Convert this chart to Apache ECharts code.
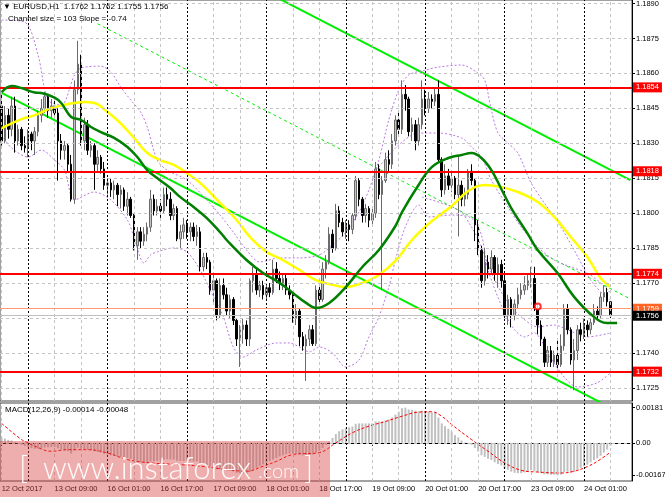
<!DOCTYPE html>
<html><head><meta charset="utf-8">
<script src="https://cdn.jsdelivr.net/npm/echarts@6/dist/echarts.min.js"></script>
<style>html,body{margin:0;padding:0;background:#fff}#c{width:665px;height:499px}</style>
</head><body><div id="c"></div>
<script>
// ---- data ----
// hourly candles [open, high, low, close], first = 12 Oct 17:00, last = 24 Oct 09:00
const ohlc = [
[1.1846,1.1851,1.1829,1.1831],[1.1831,1.1846,1.1830,1.1842],[1.1842,1.1845,1.1832,1.1836],[1.1836,1.1850,1.1833,1.1846],
[1.1846,1.1850,1.1826,1.1831],[1.1831,1.1838,1.1829,1.1836],[1.1836,1.1837,1.1827,1.1829],[1.1829,1.1833,1.1826,1.1828],
[1.1828,1.1836,1.1824,1.1834],[1.1834,1.1835,1.1827,1.1831],[1.1831,1.1837,1.1825,1.1835],[1.1835,1.1844,1.1833,1.1842],
[1.1842,1.1849,1.1839,1.1845],[1.1845,1.1852,1.1843,1.1850],[1.1850,1.1851,1.1841,1.1844],[1.1844,1.1849,1.1841,1.1846],
[1.1846,1.1849,1.1842,1.1843],[1.1843,1.1845,1.1814,1.1831],[1.1831,1.1834,1.1823,1.1827],[1.1827,1.1831,1.1823,1.1829],
[1.1829,1.1830,1.1818,1.1821],[1.1821,1.1825,1.1805,1.1806],[1.1806,1.1857,1.1804,1.1853],[1.1853,1.1874,1.1851,1.1864],
[1.1864,1.1868,1.1829,1.1831],[1.1831,1.1841,1.1827,1.1838],[1.1838,1.1840,1.1825,1.1827],[1.1827,1.1831,1.1824,1.1829],
[1.1829,1.1830,1.1810,1.1821],[1.1821,1.1827,1.1818,1.1824],[1.1824,1.1825,1.1817,1.1819],[1.1819,1.1822,1.1810,1.1812],
[1.1812,1.1815,1.1808,1.1813],[1.1813,1.1815,1.1807,1.1810],[1.1810,1.1814,1.1806,1.1812],[1.1812,1.1813,1.1803,1.1808],
[1.1808,1.1812,1.1802,1.1810],[1.1810,1.1811,1.1801,1.1803],[1.1803,1.1809,1.1799,1.1806],[1.1806,1.1807,1.1798,1.1799],
[1.1799,1.1800,1.1784,1.1786],[1.1786,1.1794,1.1780,1.1792],[1.1792,1.1794,1.1785,1.1788],[1.1788,1.1794,1.1786,1.1791],
[1.1791,1.1796,1.1788,1.1794],[1.1794,1.1810,1.1792,1.1806],[1.1806,1.1808,1.1799,1.1801],[1.1801,1.1806,1.1799,1.1803],
[1.1803,1.1806,1.1798,1.1801],[1.1801,1.1811,1.1800,1.1808],[1.1808,1.1811,1.1803,1.1806],[1.1806,1.1809,1.1797,1.1799],
[1.1799,1.1804,1.1797,1.1802],[1.1802,1.1803,1.1788,1.1789],[1.1789,1.1795,1.1785,1.1792],[1.1792,1.1798,1.1789,1.1795],
[1.1795,1.1797,1.1789,1.1792],[1.1792,1.1796,1.1788,1.1794],[1.1794,1.1796,1.1788,1.1790],[1.1790,1.1795,1.1786,1.1792],
[1.1792,1.1794,1.1775,1.1777],[1.1777,1.1783,1.1775,1.1781],[1.1781,1.1783,1.1776,1.1779],[1.1779,1.1780,1.1765,1.1767],
[1.1767,1.1774,1.1761,1.1771],[1.1771,1.1772,1.1754,1.1756],[1.1756,1.1772,1.1755,1.1769],[1.1769,1.1772,1.1763,1.1765],
[1.1765,1.1768,1.1756,1.1758],[1.1758,1.1765,1.1755,1.1763],[1.1763,1.1764,1.1752,1.1754],[1.1754,1.1755,1.1743,1.1746],
[1.1746,1.1752,1.1734,1.1750],[1.1750,1.1755,1.1744,1.1752],[1.1752,1.1754,1.1743,1.1746],[1.1746,1.1772,1.1743,1.1771],
[1.1771,1.1777,1.1766,1.1774],[1.1774,1.1776,1.1765,1.1767],[1.1767,1.1771,1.1764,1.1769],[1.1769,1.1771,1.1763,1.1765],
[1.1765,1.1770,1.1763,1.1768],[1.1768,1.1770,1.1764,1.1766],[1.1766,1.1780,1.1765,1.1776],[1.1776,1.1779,1.1770,1.1772],
[1.1772,1.1775,1.1767,1.1770],[1.1770,1.1774,1.1767,1.1772],[1.1772,1.1774,1.1765,1.1767],[1.1767,1.1769,1.1763,1.1765],
[1.1765,1.1766,1.1753,1.1755],[1.1755,1.1761,1.1752,1.1758],[1.1758,1.1759,1.1743,1.1747],[1.1747,1.1749,1.1741,1.1743],
[1.1743,1.1748,1.1728,1.1746],[1.1746,1.1752,1.1743,1.1750],[1.1750,1.1752,1.1743,1.1744],[1.1744,1.1769,1.1743,1.1767],
[1.1767,1.1769,1.1761,1.1763],[1.1763,1.1779,1.1762,1.1776],[1.1776,1.1782,1.1772,1.1779],[1.1779,1.1794,1.1778,1.1791],
[1.1791,1.1793,1.1783,1.1785],[1.1785,1.1804,1.1784,1.1801],[1.1801,1.1803,1.1794,1.1796],[1.1796,1.1798,1.1790,1.1792],
[1.1792,1.1797,1.1789,1.1795],[1.1795,1.1797,1.1788,1.1793],[1.1793,1.1800,1.1791,1.1799],[1.1799,1.1816,1.1797,1.1814],
[1.1814,1.1815,1.1803,1.1806],[1.1806,1.1807,1.1796,1.1799],[1.1799,1.1804,1.1796,1.1802],[1.1802,1.1803,1.1794,1.1797],
[1.1797,1.1803,1.1795,1.1800],[1.1800,1.1822,1.1798,1.1819],[1.1819,1.1821,1.1806,1.1808],[1.1808,1.1816,1.1767,1.1814],
[1.1814,1.1826,1.1813,1.1823],[1.1823,1.1827,1.1818,1.1821],[1.1821,1.1834,1.1819,1.1831],[1.1831,1.1842,1.1829,1.1840],
[1.1840,1.1844,1.1834,1.1836],[1.1836,1.1857,1.1834,1.1851],[1.1851,1.1855,1.1844,1.1849],[1.1849,1.1850,1.1833,1.1835],
[1.1835,1.1841,1.1831,1.1838],[1.1838,1.1840,1.1827,1.1831],[1.1831,1.1841,1.1829,1.1838],[1.1838,1.1857,1.1836,1.1849],
[1.1849,1.1853,1.1842,1.1845],[1.1845,1.1852,1.1843,1.1849],[1.1849,1.1851,1.1845,1.1848],[1.1848,1.1854,1.1846,1.1851],
[1.1851,1.1857,1.1822,1.1823],[1.1823,1.1824,1.1807,1.1810],[1.1810,1.1821,1.1808,1.1816],[1.1816,1.1819,1.1810,1.1812],
[1.1812,1.1818,1.1809,1.1815],[1.1815,1.1816,1.1806,1.1808],[1.1808,1.1825,1.1790,1.1812],[1.1812,1.1814,1.1803,1.1806],
[1.1806,1.1811,1.1803,1.1808],[1.1808,1.1819,1.1806,1.1818],[1.1818,1.1821,1.1812,1.1814],[1.1814,1.1815,1.1788,1.1795],
[1.1795,1.1797,1.1782,1.1784],[1.1784,1.1786,1.1768,1.1771],[1.1771,1.1785,1.1769,1.1779],[1.1779,1.1782,1.1772,1.1776],
[1.1776,1.1784,1.1774,1.1781],[1.1781,1.1782,1.1771,1.1774],[1.1774,1.1781,1.1768,1.1778],[1.1778,1.1780,1.1768,1.1771],
[1.1771,1.1774,1.1754,1.1756],[1.1756,1.1765,1.1752,1.1763],[1.1763,1.1764,1.1751,1.1756],[1.1756,1.1763,1.1754,1.1761],
[1.1761,1.1768,1.1759,1.1765],[1.1765,1.1770,1.1763,1.1767],[1.1767,1.1773,1.1765,1.1769],[1.1769,1.1774,1.1767,1.1771],
[1.1771,1.1777,1.1768,1.1772],[1.1772,1.1777,1.1758,1.1759],[1.1759,1.1761,1.1748,1.1752],[1.1752,1.1754,1.1743,1.1746],
[1.1746,1.1747,1.1734,1.1736],[1.1736,1.1743,1.1734,1.1741],[1.1741,1.1743,1.1734,1.1736],[1.1736,1.1741,1.1734,1.1739],
[1.1739,1.1746,1.1733,1.1735],[1.1735,1.1748,1.1734,1.1743],[1.1743,1.1761,1.1741,1.1759],[1.1759,1.1761,1.1748,1.1750],
[1.1750,1.1751,1.1735,1.1737],[1.1737,1.1746,1.1724,1.1741],[1.1741,1.1752,1.1737,1.1750],[1.1750,1.1753,1.1745,1.1748],
[1.1748,1.1755,1.1746,1.1752],[1.1752,1.1754,1.1747,1.1750],[1.1750,1.1755,1.1748,1.1753],[1.1753,1.1761,1.1752,1.1758],
[1.1758,1.1760,1.1754,1.1756],[1.1756,1.1766,1.1755,1.1764],[1.1764,1.1769,1.1762,1.1766],[1.1766,1.1768,1.1760,1.1762],
[1.1762,1.1762,1.1755,1.1756]
];
// MACD(12,26,9) main values (histogram), one per candle
const macdMain = [
0.00027,0.00022,0.00016,0.00012,0.00004,-0.00003,-0.00010,-0.00016,-0.00022,-0.00027,-0.00030,-0.00030,-0.00028,-0.00024,-0.00023,-0.00021,
-0.00021,-0.00028,-0.00034,-0.00038,-0.00043,-0.00055,-0.00040,-0.00025,-0.00030,-0.00032,-0.00036,-0.00038,-0.00043,-0.00046,-0.00050,-0.00056,
-0.00060,-0.00064,-0.00066,-0.00070,-0.00072,-0.00076,-0.00078,-0.00082,-0.00092,-0.00096,-0.00100,-0.00102,-0.00102,-0.00096,-0.00094,-0.00092,
-0.00090,-0.00086,-0.00084,-0.00086,-0.00086,-0.00092,-0.00094,-0.00094,-0.00095,-0.00095,-0.00096,-0.00096,-0.00106,-0.00110,-0.00114,-0.00122,
-0.00126,-0.00136,-0.00136,-0.00138,-0.00142,-0.00142,-0.00146,-0.00154,-0.00156,-0.00158,-0.00162,-0.00150,-0.00138,-0.00128,-0.00118,-0.00110,
-0.00102,-0.00094,-0.00086,-0.00078,-0.00070,-0.00064,-0.00058,-0.00054,-0.00056,-0.00056,-0.00060,-0.00064,-0.00064,-0.00060,-0.00060,-0.00050,
-0.00040,-0.00026,-0.00010,0.00006,0.00025,0.00045,0.00060,0.00070,0.00076,0.00080,0.00084,0.00098,0.00100,0.00100,0.00100,0.00100,
0.00100,0.00110,0.00110,0.00110,0.00115,0.00120,0.00130,0.00145,0.00160,0.00178,0.00181,0.00172,0.00170,0.00166,0.00162,0.00166,
0.00164,0.00160,0.00156,0.00158,0.00130,0.00100,0.00086,0.00072,0.00058,0.00040,0.00028,0.00012,0.00002,-0.00004,-0.00010,-0.00026,
-0.00044,-0.00064,-0.00072,-0.00082,-0.00088,-0.00100,-0.00108,-0.00116,-0.00132,-0.00138,-0.00148,-0.00154,-0.00156,-0.00156,-0.00152,-0.00146,
-0.00140,-0.00144,-0.00150,-0.00156,-0.00162,-0.00162,-0.00164,-0.00164,-0.00167,-0.00163,-0.00150,-0.00148,-0.00152,-0.00150,-0.00138,-0.00128,
-0.00120,-0.00112,-0.00100,-0.00088,-0.00080,-0.00066,-0.00050,-0.00034,-0.00014
];
// MACD signal line, read at sample candles [index, value]
const macdSignal = [[0,0.00100],[6,0.00017],[8,0],[10,-0.00017],[15,-0.00043],[20,-0.00035],[26,-0.00035],[32,-0.00052],[38,-0.00086],
[45,-0.00103],[52,-0.00110],[60,-0.00120],[68,-0.00137],[74,-0.00146],[79,-0.00120],[83,-0.00095],[88,-0.00060],[96,-0.00050],
[101,0],[106,0.00052],[111,0.00086],[116,0.00110],[121,0.00137],[126,0.00158],[130,0.00160],[133,0.00137],[136,0.00094],
[142,0.00017],[147,-0.00043],[152,-0.00103],[157,-0.00141],[162,-0.00150],[169,-0.00155],[173,-0.00146],[177,-0.00122],
[180,-0.00095],[184,-0.00048]];
// moving averages read at sample candles [index, price]
const maYellow = [[0,1.18365],[6,1.18404],[10,1.18421],[15,1.18451],[20,1.18468],[25,1.18477],[28,1.18473],[32,1.18434],[36,1.18385],
[40,1.18323],[44,1.18258],[48,1.18228],[52,1.18207],[56,1.18172],[60,1.18130],[66,1.18044],[71,1.17971],[75,1.17898],[80,1.17834],
[85,1.17799],[90,1.17756],[95,1.17713],[99,1.17696],[104,1.17683],[109,1.17701],[114,1.17735],[119,1.17795],[124,1.17885],
[129,1.17954],[132,1.17988],[136,1.18031],[141,1.18095],[146,1.18121],[151,1.18112],[156,1.18091],[162,1.18048],[167,1.17984],
[172,1.17898],[177,1.17812],[181,1.17722],[184,1.17683]];
const maGreen = [[0,1.18520],[3,1.18546],[6,1.18537],[10,1.18518],[12,1.18516],[16,1.18496],[18,1.18473],[21,1.18413],[24,1.18400],
[27,1.18370],[30,1.18348],[34,1.18323],[38,1.18284],[41,1.18241],[44,1.18185],[47,1.18151],[51,1.18108],[54,1.18069],[58,1.18027],
[62,1.17979],[66,1.17919],[68,1.17885],[74,1.17799],[79,1.17743],[84,1.17701],[88,1.17658],[92,1.17615],[95,1.17593],[99,1.17615],
[104,1.17683],[109,1.17769],[114,1.17842],[119,1.17945],[121,1.18005],[126,1.18121],[130,1.18198],[135,1.18237],[139,1.18250],
[142,1.18258],[145,1.18237],[148,1.18185],[151,1.18104],[154,1.18022],[159,1.17911],[162,1.17842],[168,1.17743],[173,1.17641],
[179,1.17555],[183,1.17529],[186,1.17529]];
// envelope bands (dotted violet) [index, price]
const bandUpper = [[0,1.18829],[7,1.18820],[11,1.18679],[14,1.18486],[18,1.18464],[22,1.18593],[24,1.18623],[30,1.18631],[33,1.18606],
[36,1.18541],[39,1.18486],[42,1.18434],[44,1.18370],[47,1.18228],[50,1.18185],[56,1.18142],[62,1.18057],[66,1.17992],[70,1.17919],
[74,1.17842],[78,1.17791],[84,1.17808],[90,1.17808],[96,1.17821],[100,1.17863],[104,1.17919],[108,1.18005],[111,1.18100],[114,1.18228],
[117,1.18400],[120,1.18528],[123,1.18593],[128,1.18614],[132,1.18627],[139,1.18636],[144,1.18601],[146,1.18571],[148,1.18443],
[150,1.18344],[153,1.18301],[156,1.18258],[160,1.18130],[164,1.18044],[169,1.17941],[173,1.17842],[178,1.17713],[182,1.17649],[184,1.17628]];
const bandLower = [[0,1.18335],[3,1.18280],[8,1.18241],[12,1.18271],[16,1.18228],[19,1.18185],[22,1.18057],[28,1.18091],[33,1.18057],
[38,1.17971],[40,1.17898],[43,1.17786],[45,1.17821],[47,1.17834],[52,1.17851],[56,1.17834],[60,1.17756],[64,1.17641],[67,1.17555],
[70,1.17426],[73,1.17383],[77,1.17413],[83,1.17443],[87,1.17443],[90,1.17426],[93,1.17405],[96,1.17426],[100,1.17400],[104,1.17340],
[108,1.17370],[111,1.17469],[114,1.17555],[117,1.17683],[119,1.17799],[122,1.17941],[126,1.18035],[129,1.17984],[136,1.17992],
[142,1.17979],[145,1.17906],[147,1.17756],[152,1.17572],[155,1.17500],[158,1.17469],[161,1.17486],[163,1.17457],[165,1.17400],
[170,1.17297],[174,1.17254],[180,1.17272],[184,1.17315]];
const bandUpperInner = [[114,1.18198],[120,1.18293],[126,1.18344],[132,1.18344],[139,1.18323],[142,1.18284],[145,1.18241],[148,1.18142],
[153,1.18027],[157,1.17941],[162,1.17855],[167,1.17799],[172,1.17769],[177,1.17743],[181,1.17701],[184,1.17658]];
const bandLowerInner = [[127,1.18069],[138,1.18014],[142,1.17941],[145,1.17855],[148,1.17743],[153,1.17615],[157,1.17555],[162,1.17512],
[167,1.17520],[171,1.17500],[177,1.17469],[184,1.17486]];
// regression channel (lime)
const channelLower = [[0,1.18516],[190,1.17122]];
const channelUpper = [[80,1.18949],[190,1.18142]];
const channelMid = [[29,1.18813],[190,1.17632]];
// horizontal levels
const levelLines = [1.1854, 1.1818, 1.1774, 1.1732];
const orangeLevel = 1.1759;
const bidLevel = 1.1756;
const markerPoint = [[162, 1.1760]];
// axes
const priceTicks = [1.1725,1.1740,1.1755,1.1770,1.1785,1.1800,1.1815,1.1830,1.1845,1.1860,1.1875,1.1890];
const macdTicks = [0.00181, 0, -0.00167];
const timeTicks = [[0,'12 Oct 2017'],[16,'13 Oct 09:00'],[32,'16 Oct 01:00'],[48,'16 Oct 17:00'],[64,'17 Oct 09:00'],
[80,'18 Oct 01:00'],[96,'18 Oct 17:00'],[112,'19 Oct 09:00'],[128,'20 Oct 01:00'],[144,'20 Oct 17:00'],[160,'23 Oct 09:00'],[176,'24 Oct 01:00']];
const daySeparators = [8,32,56,80,104,128,152,176];
const slotCount = 191;

// ---- chart ----
const FONT = '"Liberation Sans", Arial, sans-serif';
const slots = Array.from({length: slotCount}, (_, i) => String(i));
const tickMap = {}; timeTicks.forEach(([i, t]) => { tickMap[i] = t; });
const isTick = (i) => tickMap[i] !== undefined;
const vGrid = [];
for (let i = 0; i < slotCount; i += 8) vGrid.push(i);
const vLines = vGrid.map(i => daySeparators.includes(i)
  ? {xAxis: i, lineStyle: {color: '#000', type: [2, 2], width: 1}}
  : {xAxis: i});
const gridLineStyle = {color: '#c4c4c4', type: [3, 3], width: 1};
const levelLabel = (bg) => ({show: true, position: 'end', distance: 1, formatter: p => Number(p.value).toFixed(4),
  color: '#fff', backgroundColor: bg, fontSize: 7.5, fontFamily: FONT, padding: [1, 3, 1, 3], lineHeight: 8});
const bandStyle = {color: '#b978e2', width: 1, type: [2, 2]};
const bandSeries = (d) => ({type: 'line', xAxisIndex: 0, yAxisIndex: 0, data: d, showSymbol: false, smooth: 0.3, z: 2, silent: true, lineStyle: bandStyle});

const chart = echarts.init(document.getElementById('c'), null, {renderer: 'canvas'});
chart.setOption({
  animation: false,
  backgroundColor: '#fff',
  grid: [
    {left: 0, right: 33, top: 0, height: 401, show: true, borderColor: '#444', borderWidth: 1, outerBoundsMode: 'none', containLabel: false},
    {left: 0, right: 33, top: 403, height: 78, show: true, borderColor: '#444', borderWidth: 1, outerBoundsMode: 'none', containLabel: false}
  ],
  xAxis: [
    {type: 'category', gridIndex: 0, data: slots, boundaryGap: true, axisLine: {show: false}, axisTick: {show: false},
     axisLabel: {show: false}, splitLine: {show: false}},
    {type: 'category', gridIndex: 1, data: slots, boundaryGap: true, axisLine: {show: true, lineStyle: {color: '#000'}},
     axisTick: {show: true, alignWithLabel: true, interval: (i) => isTick(i), length: 3, lineStyle: {color: '#000'}},
     axisLabel: {show: true, interval: (i) => isTick(i), formatter: (v, i) => tickMap[i] || '', align: 'left',
       color: '#000', fontSize: 7.5, fontFamily: FONT, margin: 4},
     splitLine: {show: false}}
  ],
  yAxis: [
    {type: 'value', gridIndex: 0, position: 'right', min: 1.17194, max: 1.18915, scale: true,
     axisLine: {show: true, lineStyle: {color: '#000'}},
     axisTick: {show: true, customValues: priceTicks, length: 3, lineStyle: {color: '#000'}},
     axisLabel: {show: true, customValues: priceTicks, formatter: v => v.toFixed(4), color: '#000', fontSize: 7.5, fontFamily: FONT, margin: 4},
     splitLine: {show: false}},
    {type: 'value', gridIndex: 1, position: 'right', min: -0.00196, max: 0.00205,
     axisLine: {show: true, lineStyle: {color: '#000'}},
     axisTick: {show: true, customValues: macdTicks, length: 3, lineStyle: {color: '#000'}},
     axisLabel: {show: true, customValues: macdTicks, formatter: v => v === 0 ? '0.00' : v.toFixed(5), color: '#000', fontSize: 7.5, fontFamily: FONT, margin: 4},
     splitLine: {show: false}}
  ],
  series: [
    {type: 'line', xAxisIndex: 0, yAxisIndex: 0, data: channelLower, showSymbol: false, z: 2, silent: true,
     lineStyle: {color: '#00ee00', width: 2},
     markLine: {silent: true, precision: 6, symbol: ['none', 'none'], animation: false, label: {show: false}, lineStyle: gridLineStyle,
       data: vLines.concat(priceTicks.map(v => ({yAxis: v})))}},
    {type: 'line', xAxisIndex: 0, yAxisIndex: 0, data: channelUpper, showSymbol: false, z: 2, silent: true,
     lineStyle: {color: '#00ee00', width: 2}},
    {type: 'line', xAxisIndex: 0, yAxisIndex: 0, data: channelMid, showSymbol: false, z: 2, silent: true,
     lineStyle: {color: '#00ee00', width: 1, type: [3, 3]}},
    bandSeries(bandUpper), bandSeries(bandLower), bandSeries(bandUpperInner), bandSeries(bandLowerInner),
    {type: 'candlestick', xAxisIndex: 0, yAxisIndex: 0, z: 3, barWidth: 2,
     data: ohlc.map(d => [d[0], d[3], d[2], d[1]]),
     itemStyle: {color: '#c4c4c4', color0: '#000', borderColor: '#6a6a6a', borderColor0: '#000', borderWidth: 1}},
    {type: 'line', xAxisIndex: 0, yAxisIndex: 0, data: maYellow, showSymbol: false, smooth: 0.4, z: 4, silent: true,
     lineStyle: {color: '#ffff00', width: 2.5}},
    {type: 'line', xAxisIndex: 0, yAxisIndex: 0, data: maGreen, showSymbol: false, smooth: 0.4, z: 5, silent: true,
     lineStyle: {color: '#008000', width: 2.5},
     markLine: {silent: true, precision: 6, symbol: ['none', 'none'], animation: false,
       data: levelLines.map(v => ({yAxis: v, lineStyle: {color: '#ff0000', width: 2, type: 'solid'}, label: levelLabel('#ff0000')}))
         .concat([
           {yAxis: orangeLevel, lineStyle: {color: '#ff9a72', width: 1, type: 'solid'}, label: levelLabel('#ff6424')},
           {yAxis: bidLevel, lineStyle: {color: '#c0c0c0', width: 1, type: 'solid'}, label: levelLabel('#000')}
         ])}},
    {type: 'scatter', xAxisIndex: 0, yAxisIndex: 0, data: markerPoint, symbol: 'emptyCircle', symbolSize: 6, z: 6,
     itemStyle: {color: '#ff0000', borderColor: '#ff0000', borderWidth: 1}},
    {type: 'bar', xAxisIndex: 1, yAxisIndex: 1, data: macdMain, barWidth: 2, z: 2, silent: true,
     itemStyle: {color: '#c0c0c0'},
     markLine: {silent: true, precision: 8, symbol: ['none', 'none'], animation: false, label: {show: false}, lineStyle: gridLineStyle,
       data: vLines.concat([{yAxis: 0}])}},
    {type: 'line', xAxisIndex: 1, yAxisIndex: 1, data: macdSignal, showSymbol: false, smooth: 0.4, z: 3, silent: true,
     lineStyle: {color: '#ff0000', width: 1, type: [3, 2]}}
  ],
  graphic: [
    {type: 'text', x: 3, y: 3, z: 50, style: {text: '\u25BC EURUSD,H1  1.1762 1.1762 1.1755 1.1756', fill: '#000', font: '8px ' + FONT}},
    {type: 'text', x: 8, y: 15, z: 50, style: {text: 'Channel size = 103 Slope = -0.74', fill: '#000', font: '8px ' + FONT}},
    {type: 'text', x: 5, y: 406, z: 50, style: {text: 'MACD(12,26,9) -0.00014 -0.00048', fill: '#000', font: '8px ' + FONT}},
    {type: 'rect', z: 100, shape: {x: 0, y: 441, width: 330, height: 56}, style: {fill: 'rgba(214,62,62,0.42)'}},
    {type: 'text', z: 101, x: 19, y: 469, style: {text: '[', fill: 'rgba(255,255,255,0.95)', font: '300 31px Lato, "Liberation Sans"', verticalAlign: 'middle'}},
    {type: 'text', z: 101, x: 43, y: 469, style: {text: 'www.instaforex', fill: 'rgba(255,255,255,0.95)', font: '300 31px Lato, "Liberation Sans"', verticalAlign: 'middle'}},
    {type: 'text', z: 101, x: 258, y: 472, style: {text: '.com', fill: 'rgba(255,255,255,0.95)', font: '300 20px Lato, "Liberation Sans"', verticalAlign: 'middle'}},
    {type: 'text', z: 101, x: 304, y: 469, style: {text: ']', fill: 'rgba(255,255,255,0.95)', font: '300 31px Lato, "Liberation Sans"', verticalAlign: 'middle'}}
  ]
});
</script>
</body></html>
